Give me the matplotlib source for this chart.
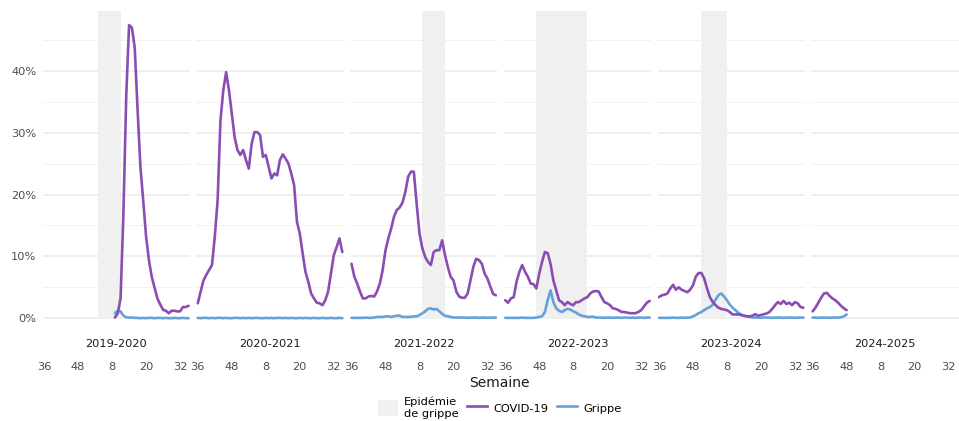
import matplotlib
matplotlib.use("Agg")
import matplotlib.pyplot as plt
from matplotlib.patches import Patch, Rectangle
from matplotlib.lines import Line2D

# Saisons et semaines de début de chaque série
saisons = ["2019-2020", "2020-2021", "2021-2022", "2022-2023", "2023-2024", "2024-2025"]
debut_covid = [9, 36, 36, 36, 36, 36]
debut_grippe = [9, 36, 36, 36, 36, 36]

# Périodes d'épidémie de grippe (semaine de début, semaine de fin)
epidemie_debut = [3, None, 9, 47, 51, None]
epidemie_fin = [11, None, 17, 13, 8, None]

# Part des passages (%) par semaine
covid_2019 = [0.1, 0.8, 3.2, 17.0, 36.0, 47.4, 47.0, 43.7, 33.7, 24.5, 19.0, 13.2, 9.4,
              6.7, 4.9, 3.2, 2.2, 1.35, 1.2, 0.8, 1.2, 1.2, 1.1, 1.1, 1.8, 1.8, 2.0]
covid_2020 = [2.4, 4.3, 6.1, 7.0, 7.8, 8.6, 13.2, 19.1, 32.0, 36.9,
              39.8, 36.9, 33.1, 29.3, 27.2, 26.4, 27.2, 25.6, 24.2, 28.2,
              30.1, 30.1, 29.6, 26.1, 26.4, 24.5, 22.6, 23.4, 23.1, 25.6,
              26.5, 25.8, 25.0, 23.4, 21.5, 15.6, 13.7, 10.5, 7.5, 5.9,
              4.0, 3.2, 2.5, 2.4, 2.1, 2.9, 4.3, 7.2, 10.2, 11.5, 12.9, 10.7]
covid_2021 = [8.8, 6.7, 5.6, 4.3, 3.2, 3.2, 3.5, 3.6, 3.5, 4.3,
              5.6, 7.8, 11.0, 12.9, 14.5, 16.4, 17.5, 17.9, 18.7, 20.4,
              22.9, 23.7, 23.7, 18.5, 13.7, 11.3, 9.9, 9.1, 8.6, 10.7,
              11.0, 11.0, 12.6, 10.2, 8.3, 6.7, 6.1, 4.3, 3.5, 3.3,
              3.3, 4.0, 6.1, 8.3, 9.6, 9.4, 8.8, 7.2, 6.4, 5.1, 3.9, 3.7]
covid_2022 = [2.9, 2.5, 3.2, 3.4, 5.9, 7.5, 8.6, 7.5, 6.7, 5.6,
              5.5, 4.8, 7.2, 9.1, 10.7, 10.5, 8.8, 6.1, 4.5, 2.9,
              2.6, 2.1, 2.6, 2.3, 2.1, 2.6, 2.6, 2.9, 3.2, 3.4,
              4.0, 4.3, 4.4, 4.3, 3.4, 2.6, 2.4, 2.1, 1.6, 1.5,
              1.3, 1.0, 1.0, 0.9, 0.8, 0.8, 0.8, 1.0, 1.3, 1.9, 2.5, 2.8]
covid_2023 = [3.4, 3.7, 3.8, 4.0, 4.8, 5.4, 4.6, 5.0, 4.6, 4.4,
              4.2, 4.6, 5.3, 6.7, 7.3, 7.3, 6.4, 4.8, 3.4, 2.6,
              2.1, 1.7, 1.5, 1.4, 1.3, 1.0, 0.6, 0.6, 0.6, 0.5,
              0.4, 0.3, 0.3, 0.4, 0.65, 0.4, 0.5, 0.65, 0.75, 1.0,
              1.5, 2.1, 2.6, 2.3, 2.8, 2.3, 2.5, 2.1, 2.6, 2.4, 1.8, 1.7]
covid_2024 = [1.1, 1.7, 2.5, 3.3, 4.0, 4.1, 3.6, 3.2, 2.9, 2.5, 2.0, 1.6, 1.3]

grippe_2019 = [0.8, 1.2, 1.1, 0.4, 0.15, 0.1, 0.1, 0.05, 0.05, 0.0, 0.05, 0.0, 0.05,
               0.05, 0.0, 0.05, 0.05, 0.0, 0.05, 0.0, 0.0, 0.05, 0.0, 0.0, 0.05, 0.0, 0.0]
grippe_2020 = [0.05, 0.0, 0.05, 0.05, 0.0, 0.05, 0.0, 0.05, 0.05, 0.0,
               0.05, 0.0, 0.0, 0.05, 0.05, 0.0, 0.05, 0.0, 0.05, 0.0,
               0.05, 0.05, 0.0, 0.0, 0.05, 0.0, 0.05, 0.0, 0.05, 0.05,
               0.0, 0.05, 0.0, 0.05, 0.0, 0.0, 0.05, 0.0, 0.05, 0.0,
               0.0, 0.05, 0.0, 0.0, 0.05, 0.0, 0.0, 0.05, 0.0, 0.0, 0.05, 0.0]
grippe_2021 = [0.05, 0.05, 0.05, 0.05, 0.05, 0.1, 0.05, 0.05, 0.1, 0.2,
               0.2, 0.2, 0.3, 0.3, 0.2, 0.3, 0.4, 0.4, 0.2, 0.2,
               0.2, 0.2, 0.3, 0.3, 0.5, 0.8, 1.1, 1.5, 1.6, 1.4,
               1.5, 1.1, 0.7, 0.4, 0.3, 0.2, 0.1, 0.1, 0.1, 0.1,
               0.1, 0.05, 0.1, 0.1, 0.1, 0.05, 0.1, 0.1, 0.05, 0.1, 0.1, 0.1]
grippe_2022 = [0.05, 0.05, 0.05, 0.05, 0.05, 0.05, 0.1, 0.05, 0.05, 0.05,
               0.05, 0.1, 0.2, 0.3, 1.0, 2.9, 4.5, 2.6, 1.6, 1.2,
               1.0, 1.3, 1.5, 1.4, 1.1, 0.9, 0.6, 0.4, 0.3, 0.2,
               0.2, 0.25, 0.1, 0.1, 0.1, 0.05, 0.1, 0.1, 0.05, 0.1,
               0.1, 0.05, 0.1, 0.1, 0.05, 0.1, 0.05, 0.1, 0.1, 0.05, 0.1, 0.1]
grippe_2023 = [0.05, 0.05, 0.05, 0.05, 0.05, 0.1, 0.05, 0.05, 0.1, 0.05,
               0.1, 0.1, 0.3, 0.5, 0.8, 1.0, 1.3, 1.6, 1.8, 2.2,
               3.0, 3.7, 4.0, 3.5, 2.9, 2.2, 1.7, 1.3, 0.9, 0.6,
               0.4, 0.3, 0.2, 0.1, 0.1, 0.1, 0.05, 0.1, 0.1, 0.1,
               0.05, 0.1, 0.1, 0.1, 0.05, 0.1, 0.1, 0.1, 0.05, 0.1, 0.1, 0.1]
grippe_2024 = [0.1, 0.1, 0.05, 0.1, 0.1, 0.1, 0.05, 0.1, 0.1, 0.1, 0.15, 0.3, 0.6]

covid = [covid_2019, covid_2020, covid_2021, covid_2022, covid_2023, covid_2024]
grippe = [grippe_2019, grippe_2020, grippe_2021, grippe_2022, grippe_2023, grippe_2024]

semaines_ticks = [36, 48, 8, 20, 32]

VIOLET = "#8a4db3"
BLEU = "#65a2da"
GRIS_EPI = "#f0f0f0"
GRIS_TXT = "#4d4d4d"


def position(semaine):
    # semaine 36 = début de saison
    return (semaine - 36) % 52


def tracer_saison(ax, i):
    if epidemie_debut[i] is not None:
        x0 = position(epidemie_debut[i])
        x1 = position(epidemie_fin[i])
        ax.add_patch(Rectangle((x0, 0), x1 - x0, 60, facecolor=GRIS_EPI,
                               edgecolor="none", zorder=1))

    xg = [position(debut_grippe[i]) + k for k in range(len(grippe[i]))]
    xc = [position(debut_covid[i]) + k for k in range(len(covid[i]))]
    ax.plot(xg, grippe[i], color=BLEU, lw=1.9, zorder=2, solid_capstyle="round")
    ax.plot(xc, covid[i], color=VIOLET, lw=1.9, zorder=3, solid_capstyle="round")

    ax.set_xlim(-0.5, 51.5)
    ax.set_ylim(-2.4, 49.7)
    ax.set_xticks([position(s) for s in semaines_ticks])
    ax.set_xticklabels([str(s) for s in semaines_ticks])
    ax.set_yticks([0, 10, 20, 30, 40])
    ax.set_yticklabels(["0%", "10%", "20%", "30%", "40%"])
    ax.set_yticks([5, 15, 25, 35, 45], minor=True)

    ax.set_axisbelow(True)
    ax.grid(axis="y", which="major", color="#ebebeb", lw=1.1)
    ax.grid(axis="y", which="minor", color="#f1f1f1", lw=0.7)
    ax.grid(axis="x", visible=False)
    for sp in ax.spines.values():
        sp.set_visible(False)

    ax.tick_params(axis="x", length=0, pad=21, labelsize=8.2, labelcolor=GRIS_TXT)
    ax.tick_params(axis="y", which="both", length=0, pad=4.5, labelsize=8.2,
                   labelcolor=GRIS_TXT)
    if i > 0:
        ax.tick_params(axis="y", labelleft=False)

    ax.text(0.5, -0.034, saisons[i], transform=ax.transAxes, ha="center",
            va="center", fontsize=8.2, color="#1a1a1a")


fig, axes = plt.subplots(1, 6, figsize=(9.59, 4.21), dpi=100)
fig.subplots_adjust(left=0.0445, right=0.9995, top=0.974, bottom=0.209, wspace=0.0434)

for i, ax in enumerate(axes):
    tracer_saison(ax, i)

fig.text(0.521, 1 - 383 / 421, "Semaine", ha="center", va="center", fontsize=10,
         color="#1a1a1a")

poignees = [Patch(facecolor=GRIS_EPI, edgecolor="none"),
            Line2D([], [], color=VIOLET, lw=1.9),
            Line2D([], [], color=BLEU, lw=1.9)]
fig.legend(poignees, ["Epidémie\nde grippe", "COVID-19", "Grippe"], loc="center",
           bbox_to_anchor=(0.521, 0.031), ncol=3, frameon=False, fontsize=8.2,
           handlelength=1.8, handleheight=1.8, handletextpad=0.55, columnspacing=0.7)

fig.savefig("out.png", dpi=100)
